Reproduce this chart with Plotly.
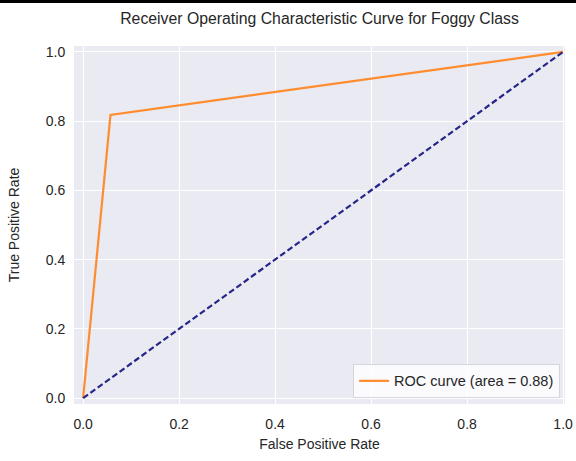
import plotly.graph_objects as go

fpr = [0.0, 0.057, 1.0]
tpr = [0.0, 0.818, 1.0]
diag_x = [0.0, 1.0]
diag_y = [0.0, 1.0]
roc_auc = 0.88
ticks = [0.0, 0.2, 0.4, 0.6, 0.8, 1.0]
tick_labels = ["0.0", "0.2", "0.4", "0.6", "0.8", "1.0"]

fig = go.Figure()
fig.add_trace(go.Scatter(x=fpr, y=tpr, mode="lines",
                         line=dict(color="#FF8C2E", width=2.2),
                         name=f"ROC curve (area = {roc_auc:.2f})"))
fig.add_trace(go.Scatter(x=diag_x, y=diag_y, mode="lines",
                         line=dict(color="#26268A", width=2.2, dash="6px,3px"),
                         showlegend=False))

L, R, T, B = 74, 11, 46, 57
H = 461 - T - B
W = 576 - L - R
fig.add_shape(type="rect", xref="paper", yref="paper",
              x0=-L / W, x1=1 + R / W, y0=(H + T - 3) / H, y1=(H + T) / H,
              fillcolor="black", line=dict(width=0), layer="above")

fig.update_layout(
    width=576, height=461,
    margin=dict(l=L, r=R, t=T, b=B, autoexpand=False),
    paper_bgcolor="white", plot_bgcolor="#EAEAF2",
    font=dict(family="Liberation Sans, Arial, sans-serif", size=14, color="#262626"),
    title=dict(text="Receiver Operating Characteristic Curve for Foggy Class",
               x=(L + W / 2) / 576, xanchor="center", y=1 - 18 / 461, yanchor="middle",
               font=dict(size=15.8, color="#262626")),
    xaxis=dict(range=[-0.019, 1.004], tickvals=ticks, ticktext=tick_labels,
               showgrid=True, gridcolor="white", gridwidth=1, zeroline=False,
               showline=False, ticks="outside", ticklen=7, tickcolor="rgba(0,0,0,0)",
               tickfont=dict(size=14), automargin=False,
               title=dict(text="False Positive Rate", font=dict(size=14), standoff=8)),
    yaxis=dict(range=[-0.017, 1.017], tickvals=ticks, ticktext=tick_labels,
               showgrid=True, gridcolor="white", gridwidth=1, zeroline=False,
               showline=False, ticks="outside", ticklen=5, tickcolor="rgba(0,0,0,0)",
               tickfont=dict(size=14), automargin=False,
               title=dict(text="True Positive Rate", font=dict(size=14), standoff=22)),
    legend=dict(x=0.99, y=0.017, xanchor="right", yanchor="bottom",
                bgcolor="rgba(255,255,255,0.8)", bordercolor="#D5D5DD", borderwidth=1,
                font=dict(size=14.5)),
)

fig.write_html("out.html", config={"displayModeBar": False},
               post_script="document.body.style.margin='0';document.body.style.overflow='hidden';")
